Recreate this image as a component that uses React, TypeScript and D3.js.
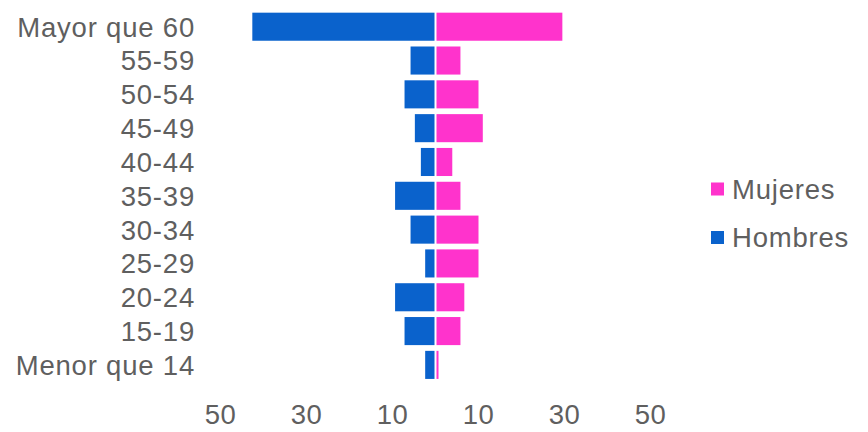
import * as d3 from 'd3';
import React from 'react';

const categories = [
	'Mayor que 60',
	'55-59',
	'50-54',
	'45-49',
	'40-44',
	'35-39',
	'30-34',
	'25-29',
	'20-24',
	'15-19',
	'Menor que 14',
];
const hombres = [42.6, 5.8, 7.2, 4.8, 3.4, 9.4, 5.8, 2.4, 9.4, 7.2, 2.4];
const mujeres = [29.5, 5.8, 10.0, 11.0, 3.9, 5.8, 10.0, 10.0, 6.7, 5.8, 0.7];
const ticks = [-50, -30, -10, 10, 30, 50];
const legendItems = [
	{ name: 'Mujeres', color: '#ff33cc' },
	{ name: 'Hombres', color: '#0a62cc' },
];

const width = 868;
const height = 432;
const font = '"Liberation Sans", Arial, sans-serif';
const textColor = '#5f5f5f';

export default function App() {
	const x = d3.scaleLinear().domain([-50, 50]).range([220.5, 650.5]);
	const y = d3
		.scaleBand()
		.domain(categories)
		.range([9.8, 381.8])
		.paddingInner(0.17)
		.paddingOuter(0.085);
	const bw = y.bandwidth();

	return (
		<svg
			width={width}
			height={height}
			style={{ position: 'absolute', left: 0, top: 0, background: '#fff' }}
			fontFamily={font}
		>
			<g>
				{categories.map((c, i) => (
					<rect
						key={'h' + c}
						x={x(-hombres[i])}
						y={y(c)}
						width={x(0) - 1 - x(-hombres[i])}
						height={bw}
						fill={legendItems[1].color}
					/>
				))}
				{categories.map((c, i) => (
					<rect
						key={'m' + c}
						x={x(0) + 1}
						y={y(c)}
						width={x(mujeres[i]) - x(0) - 1}
						height={bw}
						fill={legendItems[0].color}
					/>
				))}
			</g>
			<g fill={textColor} fontSize={27.5} letterSpacing={0.8}>
				{categories.map(c => (
					<text key={c} x={195} y={(y(c) as number) + bw / 2} dy="0.36em" textAnchor="end">
						{c}
					</text>
				))}
			</g>
			<g fill={textColor} fontSize={27.5} letterSpacing={0.5}>
				{ticks.map(t => (
					<text key={t} x={x(t)} y={424} textAnchor="middle">
						{Math.abs(t)}
					</text>
				))}
			</g>
			<g fontSize={27.5} fill={textColor} letterSpacing={0.8}>
				{legendItems.map((d, i) => (
					<g key={d.name} transform={`translate(711,${189 + i * 48.5})`}>
						<rect y={-6.5} width={13} height={13} fill={d.color} />
						<text x={21} y={0} dy="0.36em">
							{d.name}
						</text>
					</g>
				))}
			</g>
		</svg>
	);
}
